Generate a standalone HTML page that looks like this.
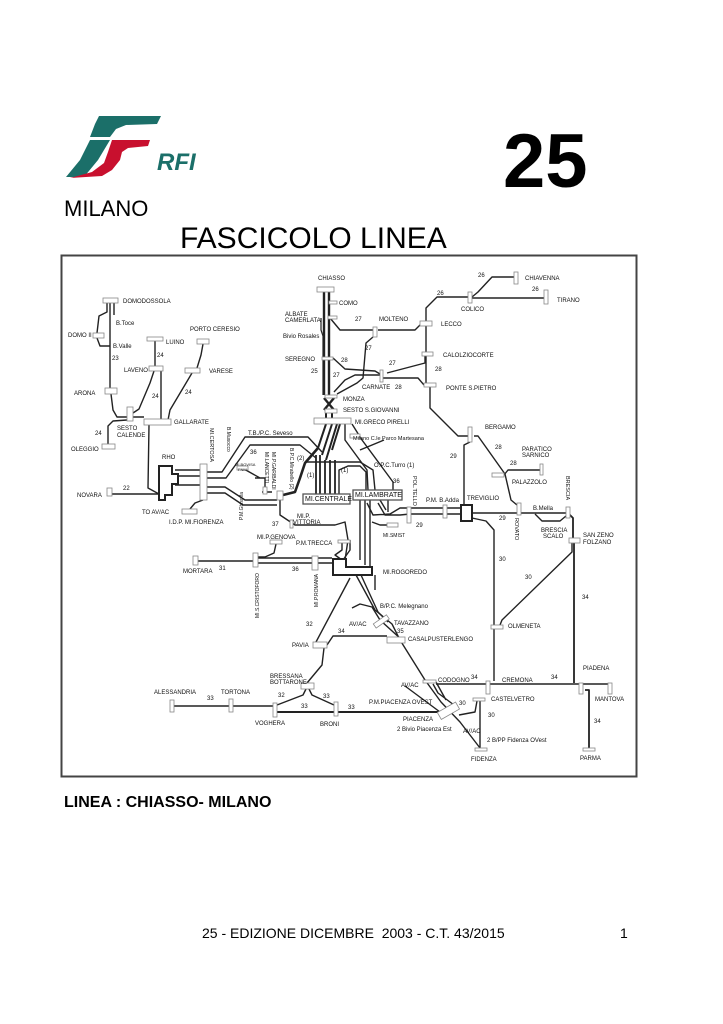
<!DOCTYPE html>
<html><head><meta charset="utf-8"><style>
html,body{margin:0;padding:0;background:#fff;}
body{width:723px;height:1024px;position:relative;overflow:hidden;font-family:"Liberation Sans",sans-serif;}
.t{position:absolute;white-space:nowrap;color:#000;}
svg text{font-family:"Liberation Sans",sans-serif;font-size:6px;fill:#111;}
</style></head><body>
<svg width="723" height="1024" style="position:absolute;left:0;top:0">
<!-- logo -->
<g>
<polygon points="99,116 161,116 157,124 126,125 116,129 110,137 90,137 95,124" fill="#1b6f69"/>
<polygon points="130,126 156,126 152,131 134,133 128,139 118,139 123,130" fill="#fff"/>
<polygon points="90,140 110,140 98,160 84,177 66,177 80,160" fill="#1b6f69"/>
<polygon points="112,140 150,140 148,146 128,148 122,152 120,160 112,170 102,176 70,178 92,172 104,163 108,152" fill="#c8102e"/>
<text x="157" y="170" style="font-size:24px;font-weight:bold;font-style:italic;fill:#1b6f69">RFI</text>
</g>
<!-- frame -->
<rect x="61.5" y="255.5" width="575" height="521" fill="none" stroke="#444" stroke-width="2"/>
<g fill="none" stroke="#222" stroke-width="1.4" stroke-linejoin="round">
<!-- Chiasso trunk -->
<path d="M324 292 V395 M329 292 V395" stroke-width="2.4"/>
<path d="M321 318 V330 L323 336 V395" stroke-width="1.2"/>
<path d="M324 398 L334 410 M334 398 L324 410" stroke-width="2.4"/>
<path d="M326 413 V420 M332 413 V420" stroke-width="2"/>
<path d="M329 303 H337"/>
<path d="M330 318 L340 330 H373 M378 330 H415 L421 324"/>
<path d="M426 321 V308 L437 297 H468 M472 298 H544 M472 297 L478 292 L492 277 H514"/>
<path d="M426 326 V385"/>
<path d="M425 356 V363 L387 373"/>
<path d="M373 337 L366 343 L363 378 L357 383 L337 394"/>
<path d="M333 358 L345 369 L375 371 L380 374 M383 378 H418 L424 385"/>
<path d="M383 375 L355 375 L345 380 L334 392"/>
<path d="M430 387 V408 L458 436 H468"/>
<path d="M470 442 L464 445 V506"/>
<path d="M474 436 H478 L505 474 L511 500 L517 505"/>
<path d="M504 475 L508 470 H540"/>
<path d="M472 513 H566"/>
<path d="M535 514 L542 521 H560 L566 516"/>
<path d="M569 514 L573 518 V540 M574 543 V683" stroke-width="1.8"/>
<path d="M572 543 V552 L502 620 L500 625"/>
<path d="M472 518 L486 521 L494 530 V681"/>
<path d="M436 684 H486 M490 684 H579 M583 684 H608"/>
<path d="M585 690 H589 V748" stroke-width="1.8"/>
<path d="M480 701 V748"/>
<path d="M477 701 L475 712 L459 715"/>
<!-- Rogoredo south -->
<path d="M356 575 L375 610 L392 624 L400 640 L425 680 L441 702 L460 722 L470 735 L480 748"/>
<path d="M361 575 L378 612 L388 622 M352 608 L360 604 L372 607 L380 620 L402 640"/>
<path d="M350 578 L316 642"/>
<path d="M324 648 L322 665 L307 683"/>
<path d="M306 689 L303 695 L277 705 M309 689 L312 695 L334 705"/>
<path d="M174 706 H273"/>
<path d="M277 712 H440" stroke-width="2"/>
<path d="M327 645 L333 636 H387"/>
<path d="M436 682 L446 700 M433 684 L438 693 L454 705"/>
<path d="M405 686 L440 712"/>
<!-- west -->
<path d="M110 303 V388 M114 303 V315"/>
<path d="M107 303 V312 L99 316 L97 333 M97 338 L100 346 L110 346"/>
<path d="M111 394 L113 410 L117 417 H127 M133 417 H144"/>
<path d="M127 420 L113 421 L108 426 V444"/>
<path d="M154 371 L150 383 L139 409 L133 413 M155 341 V366 M161 371 V420"/>
<path d="M203 344 L201 355 L197 368 M192 373 L170 410 L168 420"/>
<path d="M149 425 L148 488 L159 494"/>
<path d="M112 494 H170"/>
<path d="M175 470 H200 M175 485 H200 M175 476 H200" stroke-width="1.6"/>
<path d="M207 472 H222 L245 437 H308 L322 452"/>
<path d="M207 478 H226 L250 445 H300 L316 458"/>
<path d="M207 487 H225 L245 500 H277 M207 493 H225 L243 505 H277"/>
<path d="M203 500 L195 503 L190 509"/>
<path d="M283 495 L295 492 L300 478 L305 463 L318 448" stroke-width="2.6"/>
<path d="M280 500 V515 L295 525 H335 L345 522 L348 540 L345 560"/>
<path d="M244 469 L260 478 M255 478 H265 V490 M262 492 H272"/>
<!-- Milano centrale -->
<path d="M318 448 L326 424 M322 455 L332 424 M326 460 L337 424 M340 424 L332 450" stroke-width="2"/>
<path d="M316 455 V494 M320 455 V494 M325 460 V494 M330 460 V494 M335 460 V494" stroke-width="1.8"/>
<path d="M305 462 H360 L373 470 L375 490"/>
<path d="M339 494 V470 L348 466 L360 466 L366 472 V490"/>
<path d="M345 424 V440 L367 470 L368 490 M352 424 L362 440 L393 482 V490"/>
<path d="M360 450 L384 440"/>
<path d="M360 500 V560 M365 500 V565 M370 500 V567 M375 575 V590"/>
<path d="M367 503 L373 515 L390 514 L400 508 H460 M378 503 L385 515 H400 L410 514 H460" stroke-width="1.4"/>
<path d="M388 500 V512 M380 500 L386 510"/>
<path d="M342 540 L342 550 L335 555 L342 560 M350 540 L350 550 L343 560"/>
<path d="M258 558 H312 M258 563 H312 M318 558 H332 M318 563 H332 M198 561 H253"/>
<path d="M276 544 L274 553 L265 557 H258"/>
<path d="M372 522 L380 525 H392"/>
</g>
<!-- rogoredo block & main boxes -->
<g fill="#fff" stroke="#222" stroke-width="2">
<path d="M333 559 H346 V567 H372 V575 H333 Z"/>
<path d="M159 466 H172 V474 H178 V484 H172 V495 H165 V500 H159 Z"/>
<rect x="461" y="505" width="11" height="16"/>
</g>
<g fill="#fff" stroke="#555" stroke-width="1.3">
<rect x="303" y="494" width="47" height="10"/>
<rect x="353" y="490" width="49" height="10"/>
</g>
<g fill="#fff" stroke="#888" stroke-width="0.8">
<rect x="317" y="287" width="17" height="5"/>
<rect x="329" y="301" width="8" height="3"/>
<rect x="328" y="316" width="9" height="3"/>
<rect x="373" y="327" width="4" height="10"/>
<rect x="322" y="357" width="11" height="3"/>
<rect x="380" y="370" width="3" height="12"/>
<rect x="325" y="395" width="12" height="3"/>
<rect x="325" y="409" width="12" height="4"/>
<rect x="314" y="418" width="37" height="6"/>
<rect x="514" y="272" width="4" height="12"/>
<rect x="544" y="290" width="4" height="14"/>
<rect x="468" y="292" width="4" height="11"/>
<rect x="420" y="321" width="12" height="5"/>
<rect x="422" y="352" width="11" height="4"/>
<rect x="424" y="383" width="12" height="4"/>
<rect x="468" y="427" width="4" height="15"/>
<rect x="540" y="464" width="3" height="11"/>
<rect x="492" y="473" width="12" height="4"/>
<rect x="517" y="503" width="4" height="12"/>
<rect x="566" y="507" width="4" height="11"/>
<rect x="443" y="505" width="4" height="13"/>
<rect x="407" y="507" width="4" height="16"/>
<rect x="387" y="523" width="11" height="4"/>
<rect x="569" y="538" width="11" height="5"/>
<rect x="491" y="625" width="12" height="4"/>
<rect x="387" y="637" width="18" height="6"/>
<rect x="423" y="680" width="13" height="3"/>
<rect x="486" y="681" width="4" height="13"/>
<rect x="579" y="683" width="4" height="11"/>
<rect x="608" y="683" width="4" height="11"/>
<rect x="473" y="698" width="12" height="3"/>
<rect x="475" y="748" width="12" height="3"/>
<rect x="583" y="748" width="12" height="3"/>
<rect x="103" y="298" width="15" height="5"/>
<rect x="93" y="333" width="11" height="5"/>
<rect x="105" y="388" width="12" height="6"/>
<rect x="147" y="337" width="16" height="4"/>
<rect x="149" y="366" width="14" height="5"/>
<rect x="197" y="339" width="12" height="5"/>
<rect x="185" y="368" width="15" height="5"/>
<rect x="127" y="407" width="6" height="14"/>
<rect x="102" y="444" width="13" height="5"/>
<rect x="144" y="419" width="27" height="6"/>
<rect x="200" y="464" width="7" height="36"/>
<rect x="107" y="488" width="5" height="8"/>
<rect x="182" y="509" width="15" height="5"/>
<rect x="237" y="466" width="11" height="4"/>
<rect x="263" y="487" width="4" height="7"/>
<rect x="277" y="491" width="6" height="9"/>
<rect x="290" y="520" width="3" height="8"/>
<rect x="270" y="540" width="12" height="4"/>
<rect x="338" y="540" width="12" height="3"/>
<rect x="193" y="556" width="5" height="9"/>
<rect x="253" y="553" width="5" height="14"/>
<rect x="312" y="556" width="6" height="14"/>
<rect x="313" y="642" width="14" height="6"/>
<rect x="301" y="683" width="13" height="6"/>
<rect x="170" y="700" width="4" height="12"/>
<rect x="229" y="699" width="4" height="13"/>
<rect x="273" y="703" width="4" height="14"/>
<rect x="334" y="702" width="4" height="14"/>
<rect x="373" y="619" width="16" height="5" transform="rotate(-35 381 621)"/>
<rect x="438" y="707" width="21" height="8" transform="rotate(-30 448 711)"/>
<rect x="350" y="434" width="10" height="4"/>
</g>
<!-- labels -->
<text x="318" y="280">CHIASSO</text>
<text x="339" y="305">COMO</text>
<text x="285" y="316">ALBATE</text>
<text x="285" y="322">CAMERLATA</text>
<text x="355" y="321">27</text>
<text x="379" y="321">MOLTENO</text>
<text x="283" y="338">Bivio Rosales</text>
<text x="365" y="350">27</text>
<text x="285" y="361">SEREGNO</text>
<text x="341" y="362">28</text>
<text x="389" y="365">27</text>
<text x="311" y="373">25</text>
<text x="333" y="377">27</text>
<text x="435" y="371">28</text>
<text x="362" y="389">CARNATE</text>
<text x="395" y="389">28</text>
<text x="343" y="401">MONZA</text>
<text x="343" y="412">SESTO S.GIOVANNI</text>
<text x="355" y="424">MI.GRECO PIRELLI</text>
<text x="478" y="277">26</text>
<text x="525" y="280">CHIAVENNA</text>
<text x="437" y="295">26</text>
<text x="532" y="291">26</text>
<text x="557" y="302">TIRANO</text>
<text x="461" y="311">COLICO</text>
<text x="441" y="326">LECCO</text>
<text x="443" y="357">CALOLZIOCORTE</text>
<text x="446" y="390">PONTE S.PIETRO</text>
<text x="485" y="429">BERGAMO</text>
<text x="495" y="449">28</text>
<text x="450" y="458">29</text>
<text x="522" y="451">PARATICO</text>
<text x="522" y="457">SARNICO</text>
<text x="510" y="465">28</text>
<text x="512" y="484">PALAZZOLO</text>
<text x="467" y="500">TREVIGLIO</text>
<text x="426" y="502">P.M. B.Adda</text>
<text x="533" y="510">B.Mella</text>
<text x="499" y="520">29</text>
<text x="416" y="527">29</text>
<text x="541" y="532">BRESCIA</text>
<text x="543" y="538">SCALO</text>
<text x="583" y="537">SAN ZENO</text>
<text x="583" y="544">FOLZANO</text>
<text x="499" y="561">30</text>
<text x="525" y="579">30</text>
<text x="582" y="599">34</text>
<text x="508" y="628">OLMENETA</text>
<text x="583" y="670">PIADENA</text>
<text x="438" y="682">CODOGNO</text>
<text x="471" y="679">34</text>
<text x="502" y="682">CREMONA</text>
<text x="551" y="679">34</text>
<text x="595" y="701">MANTOVA</text>
<text x="491" y="701">CASTELVETRO</text>
<text x="459" y="705">30</text>
<text x="488" y="717">30</text>
<text x="594" y="723">34</text>
<text x="401" y="687">AV/AC</text>
<text x="369" y="704">P.M.PIACENZA OVEST</text>
<text x="403" y="721">PIACENZA</text>
<text x="397" y="731">2  Bivio Piacenza Est</text>
<text x="463" y="733">AV/AC</text>
<text x="487" y="742">2  B/PP Fidenza  OVest</text>
<text x="471" y="761">FIDENZA</text>
<text x="580" y="760">PARMA</text>
<text x="380" y="608">B/P.C. Melegnano</text>
<text x="394" y="625">TAVAZZANO</text>
<text x="397" y="633">35</text>
<text x="408" y="641">CASALPUSTERLENGO</text>
<text x="349" y="626">AV/AC</text>
<text x="306" y="626">32</text>
<text x="338" y="633">34</text>
<text x="292" y="647">PAVIA</text>
<text x="270" y="678">BRESSANA</text>
<text x="270" y="684">BOTTARONE</text>
<text x="154" y="694">ALESSANDRIA</text>
<text x="221" y="694">TORTONA</text>
<text x="207" y="700">33</text>
<text x="278" y="697">32</text>
<text x="323" y="698">33</text>
<text x="301" y="708">33</text>
<text x="348" y="709">33</text>
<text x="255" y="725">VOGHERA</text>
<text x="320" y="726">BRONI</text>
<text x="383" y="574">MI.ROGOREDO</text>
<text x="183" y="573">MORTARA</text>
<text x="219" y="570">31</text>
<text x="292" y="571">36</text>
<text x="257" y="539">MI.P.GENOVA</text>
<text x="296" y="545">P.M.TRECCA</text>
<text x="272" y="526">37</text>
<text x="297" y="518">MI.P.</text>
<text x="293" y="524">VITTORIA</text>
<text x="383" y="537" style="font-size:5px">MI.SMIST</text>
<text x="353" y="440" style="font-size:5.5px">Milano C.le Parco Martesana</text>
<text x="374" y="467">O.P.C.Turro (1)</text>
<text x="393" y="483">36</text>
<text x="341" y="472">(1)</text>
<text x="297" y="460">(2)</text>
<text x="307" y="477">(1)</text>
<text x="305" y="501" style="font-size:7px">MI.CENTRALE</text>
<text x="355" y="497" style="font-size:7px">MI.LAMBRATE</text>
<text x="248" y="435">T.B./P.C. Seveso</text>
<text x="250" y="454">36</text>
<text x="235" y="466" style="font-size:4px">MI.BOVISA</text>
<text x="238" y="471" style="font-size:4px">FNM</text>
<text x="123" y="303">DOMODOSSOLA</text>
<text x="68" y="337">DOMO II</text>
<text x="116" y="325">B.Toce</text>
<text x="113" y="348">B.Valle</text>
<text x="112" y="360">23</text>
<text x="166" y="344">LUINO</text>
<text x="190" y="331">PORTO CERESIO</text>
<text x="157" y="357">24</text>
<text x="124" y="372">LAVENO</text>
<text x="209" y="373">VARESE</text>
<text x="74" y="395">ARONA</text>
<text x="152" y="398">24</text>
<text x="185" y="394">24</text>
<text x="174" y="424">GALLARATE</text>
<text x="117" y="430">SESTO</text>
<text x="117" y="437">CALENDE</text>
<text x="95" y="435">24</text>
<text x="71" y="451">OLEGGIO</text>
<text x="162" y="459">RHO</text>
<text x="77" y="497">NOVARA</text>
<text x="123" y="490">22</text>
<text x="142" y="514">TO AV/AC</text>
<text x="169" y="524">I.D.P. MI.FIORENZA</text>
<text transform="translate(210,428) rotate(90)" style="font-size:5.5px">MI.CERTOSA</text>
<text transform="translate(227,427) rotate(90)" style="font-size:5px">B.Musocco</text>
<text transform="translate(265,452) rotate(90)" style="font-size:5px">MI.LANCETTI</text>
<text transform="translate(272,452) rotate(90)" style="font-size:5px">MI.P.GARIBALDI</text>
<text transform="translate(290,448) rotate(90)" style="font-size:5px">B.P.C.Mirabello (2)</text>
<text transform="translate(243,520) rotate(-90)" style="font-size:5px">P.M.Ghisolfa</text>
<text transform="translate(259,618) rotate(-90)" style="font-size:5px">MI.S.CRISTOFORO</text>
<text transform="translate(318,607) rotate(-90)" style="font-size:5px">MI.P.ROMANA</text>
<text transform="translate(413,476) rotate(90)" style="font-size:5.5px">POL.TELLO</text>
<text transform="translate(515,518) rotate(90)" style="font-size:5.5px">ROVATO</text>
<text transform="translate(566,476) rotate(90)" style="font-size:5.5px">BRESCIA</text>
</svg>
<div class="t" style="left:503px;top:124px;font-size:76px;font-weight:bold;line-height:1;">25</div>
<div class="t" style="left:64px;top:198px;font-size:22px;line-height:1;">MILANO</div>
<div class="t" style="left:180px;top:224px;font-size:30px;line-height:1;">FASCICOLO LINEA</div>
<div class="t" style="left:64px;top:795px;font-size:16px;font-weight:bold;line-height:1;">LINEA : CHIASSO- MILANO</div>
<div class="t" style="left:202px;top:926px;font-size:14px;line-height:1;">25 - EDIZIONE DICEMBRE&nbsp; 2003 - C.T. 43/2015</div>
<div class="t" style="left:620px;top:926px;font-size:14px;line-height:1;">1</div>
</body></html>
